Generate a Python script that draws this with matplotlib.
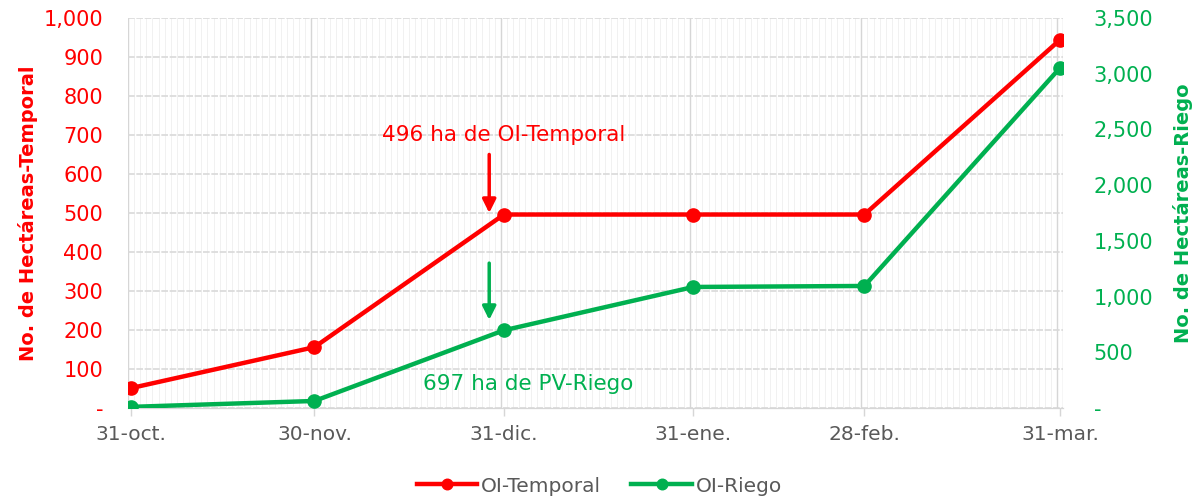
import numpy as np
import pandas as pd
import matplotlib
matplotlib.use("Agg")
from matplotlib import pyplot as plt
from matplotlib.ticker import FuncFormatter, MultipleLocator
import matplotlib.dates as mdates

fechas = ["2019-10-31", "2019-11-30", "2019-12-31", "2020-01-31", "2020-02-28", "2020-03-31"]
etiquetas = ["31-oct.", "30-nov.", "31-dic.", "31-ene.", "28-feb.", "31-mar."]
temporal = [51, 156, 496, 496, 496, 944]
riego = [10, 63, 697, 1086, 1095, 3052]

rojo = "#FF0000"
verde = "#00B050"
gris = "#595959"

plt.rcParams['font.family'] = ['DejaVu Sans']

x = mdates.date2num(pd.to_datetime(fechas))

fig = plt.figure(figsize=(11.99, 4.99), dpi=100)
ax = fig.add_axes([0.1068, 0.1824, 0.7798, 0.7816])
ax2 = ax.twinx()

# rejilla: dias (menor) y fechas (mayor), entre marcas
ax.set_xlim(x[0] - 0.5, x[-1] + 0.5)
for d in np.arange(x[0] - 0.5, x[-1] + 1, 1):
    ax.axvline(d, color="#F1F1F1", lw=0.7, zorder=0)
for d in x:
    ax.axvline(d - 0.5, color="#D6D6D6", lw=1.0, zorder=0)
ax.axvline(x[-1] + 0.5, color="#D6D6D6", lw=1.0, zorder=0)

ax.set_ylim(0, 1000)
ax2.set_ylim(0, 3500)
ax.yaxis.set_major_locator(MultipleLocator(100))
ax2.yaxis.set_major_locator(MultipleLocator(500))
ax.grid(axis="y", color="#D9D9D9", lw=1.2, ls=(0, (4, 1)), zorder=0)
ax.set_axisbelow(True)

fmt = FuncFormatter(lambda v, p: "-" if v == 0 else f"{v:,.0f}")
ax.yaxis.set_major_formatter(fmt)
ax2.yaxis.set_major_formatter(fmt)

ax.plot(x, temporal, color=rojo, lw=3.2, marker="o", ms=9.5, label="OI-Temporal", zorder=3)
ax2.plot(x, riego, color=verde, lw=3.2, marker="o", ms=9.5, label="OI-Riego", zorder=3)

ax.set_xticks(x)
ax.set_xticklabels(etiquetas)
ax.tick_params(axis="x", labelsize=14.5, length=6, width=1, pad=6, color="#D6D6D6", labelcolor=gris)
ax.tick_params(axis="y", colors=rojo, labelsize=15, length=0, pad=18)
ax2.tick_params(axis="y", colors=verde, labelsize=15, length=0, pad=22)

for a in (ax, ax2):
    for s in ["left", "right", "top"]:
        a.spines[s].set_visible(False)
    a.spines["bottom"].set_color("#D6D6D6")

ax.set_ylabel("No. de Hectáreas-Temporal", color=rojo, fontsize=14, fontweight="bold", labelpad=4)
ax2.set_ylabel("No. de Hectáreas-Riego", color=verde, fontsize=14, fontweight="bold", labelpad=14)

# anotaciones
ax.text(x[2], 700, "496 ha de OI-Temporal", color=rojo, fontsize=15.5, ha="center", va="center")
ax.annotate("", xy=(x[2] - 2.4, 500), xytext=(x[2] - 2.4, 650),
            arrowprops=dict(arrowstyle="-|>", color=rojo, lw=2.5, mutation_scale=20, shrinkA=0, shrinkB=0))
ax2.text(x[2] + 4, 215, "697 ha de PV-Riego", color=verde, fontsize=15.5, ha="center", va="center")
ax2.annotate("", xy=(x[2] - 2.4, 790), xytext=(x[2] - 2.4, 1300),
             arrowprops=dict(arrowstyle="-|>", color=verde, lw=2.5, mutation_scale=20, shrinkA=0, shrinkB=0))

h1, l1 = ax.get_legend_handles_labels()
h2, l2 = ax2.get_legend_handles_labels()
leg = fig.legend(h1 + h2, l1 + l2, loc="center", bbox_to_anchor=(0.5, 0.026), ncol=2,
                 frameon=False, fontsize=14.5, handlelength=3.0, columnspacing=1.5,
                 handletextpad=0.2, markerscale=0.8)
for t in leg.get_texts():
    t.set_color(gris)

plt.savefig("out.png", dpi=100)
